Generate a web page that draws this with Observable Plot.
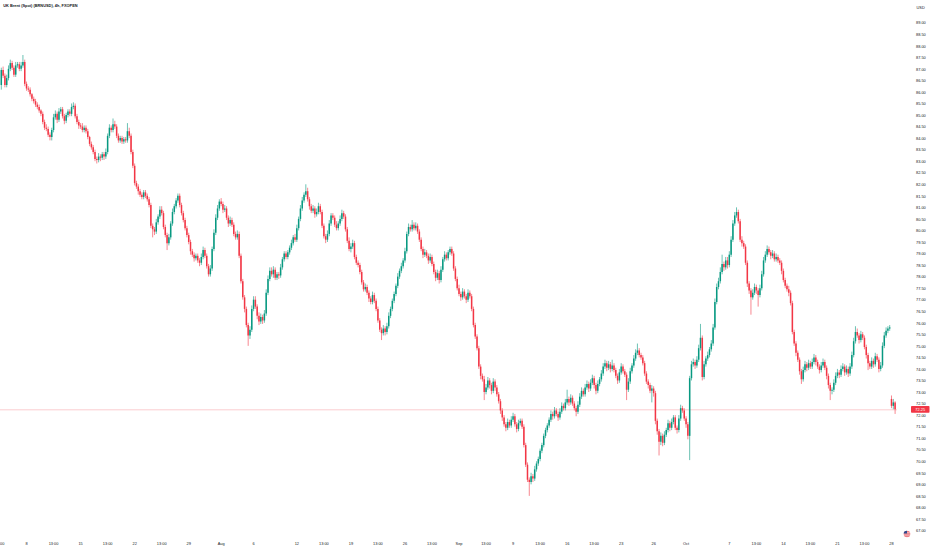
<!DOCTYPE html>
<html><head><meta charset="utf-8">
<script src="https://cdn.jsdelivr.net/npm/d3@7"></script>
<script src="https://cdn.jsdelivr.net/npm/@observablehq/plot@0.6"></script>
<style>body{margin:0;background:#fff;} #chart svg{display:block}</style>
</head><body><div id="chart"></div>
<script>
const title = "UK Brent (Spot) (BRNUSD), 4h, FXOPEN";
const currency = "USD";
// 4h closes, bar index 0..496 (early Jul -> 28 Oct)
const closes = [
86.95,86.70,86.30,86.60,87.00,87.25,87.05,86.75,87.15,87.20,
87.00,87.15,87.30,86.35,86.15,86.10,85.90,85.70,85.60,85.45,
85.35,85.20,85.05,84.70,84.45,84.40,84.15,84.05,84.35,84.90,
85.05,84.80,85.15,85.25,84.95,84.75,85.00,85.15,85.05,85.35,
85.40,84.95,84.70,84.55,84.50,84.35,84.45,84.30,84.05,83.75,
83.60,83.40,83.10,83.05,83.20,83.15,83.30,83.20,83.40,84.10,
84.45,84.35,84.60,84.50,84.10,83.90,84.00,83.85,83.95,83.90,
84.30,84.10,83.40,82.80,82.05,81.90,81.70,81.55,81.45,81.65,
81.50,81.35,81.10,80.20,80.05,79.95,80.35,80.60,80.90,80.75,
80.15,79.80,79.45,79.70,80.30,80.80,81.05,81.30,81.50,81.10,
80.75,80.45,80.10,79.80,79.50,79.10,78.95,78.80,78.90,78.70,
78.60,78.85,79.15,78.90,78.45,78.10,78.35,79.20,79.90,80.55,
80.95,81.25,81.15,80.90,80.95,80.55,80.30,80.45,80.25,79.85,
79.70,79.85,78.90,77.80,77.10,76.60,75.90,75.45,75.70,76.60,
77.00,76.70,76.30,76.05,76.25,76.10,76.40,77.30,77.90,78.25,
78.10,78.30,77.95,78.10,78.05,78.40,78.75,79.00,78.85,79.05,
79.25,79.45,79.70,79.60,80.10,80.50,80.95,81.30,81.55,81.70,
81.35,81.05,80.85,80.95,80.70,80.80,81.05,80.80,80.20,79.75,
79.60,79.85,80.30,80.65,80.55,80.25,80.10,80.30,80.50,80.75,
80.60,80.05,79.55,79.20,79.30,79.45,78.85,78.60,78.50,78.20,
77.75,77.45,77.55,77.30,77.05,76.90,77.20,76.95,76.60,76.10,
75.70,75.55,75.75,75.60,75.85,76.30,76.60,76.95,77.25,77.60,
78.00,78.25,78.45,78.70,79.10,79.85,80.15,80.05,80.25,80.10,
80.20,79.95,79.60,79.20,78.95,79.05,78.90,78.70,78.85,78.55,
78.20,77.95,78.15,77.85,78.30,78.75,78.95,78.80,79.05,79.20,
79.00,78.35,77.90,77.50,77.25,77.10,77.35,77.15,77.00,77.30,
77.15,76.60,75.90,75.40,74.90,74.10,73.70,73.55,73.00,73.20,
73.50,73.30,73.05,73.45,73.20,72.90,72.60,72.20,71.90,71.60,
71.45,71.70,71.55,71.80,71.95,71.60,71.40,71.65,71.75,71.50,
70.70,69.85,69.20,69.10,69.35,69.25,69.65,69.90,70.10,70.45,
70.70,71.10,71.35,71.55,71.80,72.05,71.95,72.20,72.05,71.90,
72.15,72.40,72.30,72.55,72.70,72.55,72.75,72.50,72.30,72.15,
72.45,72.80,73.05,72.90,73.20,73.35,73.15,73.40,73.60,73.30,
73.05,73.35,73.55,73.80,74.10,74.25,74.05,74.20,74.00,74.15,
73.95,73.70,73.50,73.85,74.10,73.90,73.75,73.10,73.45,73.90,
74.15,74.45,74.70,74.80,74.60,74.50,74.25,73.80,73.45,73.30,
73.05,73.15,72.95,71.75,71.30,70.85,71.10,70.80,71.15,71.35,
71.65,71.45,71.70,71.90,71.45,71.35,71.85,72.30,72.20,71.85,
71.60,71.10,73.60,74.20,74.30,74.15,74.40,74.90,75.35,73.65,
74.20,74.45,74.60,74.85,75.10,75.80,76.90,77.55,77.80,78.20,
78.55,78.40,78.70,78.50,78.95,79.60,80.30,80.65,80.80,80.40,
79.60,79.45,79.30,78.60,77.70,77.40,77.10,77.30,77.55,77.40,
77.20,77.50,78.10,78.70,78.95,79.20,79.05,78.90,79.00,78.75,
78.85,78.70,78.60,78.25,77.85,77.60,77.45,77.30,76.85,75.60,
75.10,74.70,74.40,73.90,73.55,73.95,74.20,74.05,74.25,74.10,
74.30,74.50,74.30,74.10,73.95,74.15,74.30,74.05,73.70,73.30,
73.05,73.10,73.40,73.70,73.85,73.75,74.00,74.10,73.85,74.00,
73.80,74.10,74.60,75.20,75.60,75.45,75.25,75.50,75.35,74.95,
74.60,74.25,74.10,74.35,74.20,74.55,74.40,74.00,74.15,75.00,
75.45,75.65,75.75,75.80,72.40,72.55,72.25
];
// wick above the body top, in cents
const upperWickCents = [
10,15,10,15,15,15,10,10,15,10,
10,15,30,10,10,10,10,5,10,10,
10,10,5,10,10,15,10,10,10,15,
15,10,15,10,10,10,10,10,10,15,
15,10,10,10,10,15,10,10,10,5,
10,10,10,10,15,10,10,10,15,10,
15,10,25,15,10,10,10,10,10,10,
35,15,10,10,10,10,10,10,10,10,
10,10,10,10,10,10,15,10,15,15,
10,10,10,15,10,15,10,10,10,10,
10,10,10,10,10,10,10,10,10,10,
10,15,15,10,10,10,15,10,15,15,
15,10,15,10,15,10,10,15,10,10,
10,15,10,10,10,10,10,10,15,15,
15,15,10,15,15,10,15,15,15,15,
15,15,10,10,10,15,10,10,10,10,
10,15,10,15,15,10,15,15,10,30,
15,10,10,15,10,15,15,10,10,10,
10,15,15,10,10,10,15,10,15,15,
10,10,10,15,15,15,10,10,10,10,
10,10,15,10,10,10,15,10,10,10,
10,10,15,10,15,15,10,10,10,10,
15,10,15,10,15,10,15,10,20,10,
15,10,10,10,10,15,10,10,15,10,
10,10,15,10,15,10,15,10,10,10,
10,10,10,10,15,10,15,10,10,15,
10,10,10,10,10,10,10,10,15,15,
15,10,10,15,10,10,10,10,10,10,
10,15,10,15,15,10,10,15,10,10,
10,10,10,10,15,10,15,10,10,10,
10,10,10,10,10,15,10,15,10,10,
15,15,10,15,40,10,15,10,10,10,
15,15,15,10,15,15,10,15,15,10,
10,15,10,15,15,15,10,15,10,25,
10,10,10,15,15,10,10,10,15,15,
10,15,15,30,10,10,10,10,10,10,
10,15,10,10,10,10,15,10,15,10,
15,10,15,10,10,10,15,15,10,10,
10,10,10,15,15,10,15,15,60,10,
15,10,15,10,15,15,15,15,15,20,
40,10,15,15,15,15,15,15,20,10,
10,15,10,10,10,10,10,15,15,10,
10,15,15,15,15,15,10,10,15,10,
15,10,10,10,10,10,10,15,10,10,
10,10,10,10,10,15,15,10,15,10,
15,15,10,10,10,15,15,10,10,10,
10,10,15,15,15,10,15,15,10,15,
10,15,15,15,25,15,10,15,10,10,
10,10,10,15,10,15,10,10,15,15,
15,15,10,10,15,15,5
];
// wick below the body bottom, in cents
const lowerWickCents = [
20,10,10,10,10,10,10,10,10,10,
10,10,10,10,10,10,10,10,10,10,
10,10,10,10,10,10,10,15,15,10,
10,15,10,10,10,15,10,10,10,10,
10,10,10,15,10,10,10,10,10,10,
10,10,10,15,10,15,10,15,10,10,
10,10,10,10,10,10,10,10,10,10,
10,10,10,10,10,10,15,10,10,10,
10,10,10,10,35,15,10,10,10,10,
10,10,30,10,10,10,10,10,10,10,
10,10,10,10,10,15,10,15,10,10,
15,10,10,10,10,10,10,10,10,10,
10,10,10,15,10,10,15,10,10,10,
10,10,10,10,10,15,10,45,15,10,
10,10,15,15,10,15,10,10,10,10,
10,15,10,10,15,10,10,10,10,10,
10,10,10,10,10,10,10,10,10,10,
10,15,10,10,15,10,10,10,10,10,
15,10,10,10,10,10,10,10,10,10,
10,10,10,10,15,10,10,10,10,10,
10,10,10,10,15,10,10,10,10,10,
10,30,10,15,10,10,10,10,10,10,
10,10,10,10,10,10,10,10,10,10,
10,10,10,10,15,10,10,15,10,10,
10,15,10,15,10,10,10,10,10,10,
10,10,10,10,10,15,10,10,15,10,
10,10,10,10,10,10,15,10,35,10,
10,15,15,10,15,10,10,15,15,10,
15,10,10,10,10,10,15,10,10,10,
10,10,10,60,10,15,10,10,10,10,
10,10,10,10,10,10,15,10,10,15,
10,10,10,10,10,15,10,10,10,20,
10,10,10,10,10,10,15,10,10,15,
15,10,10,10,10,10,15,10,15,10,
10,10,15,10,10,10,10,45,10,10,
10,10,10,10,10,10,10,10,10,15,
10,50,15,15,15,60,15,15,10,10,
10,15,10,10,10,15,10,10,10,10,
15,15,105,10,10,15,10,10,10,15,
10,10,10,10,10,10,10,10,10,10,
10,15,10,15,10,10,10,10,10,10,
10,15,10,10,15,15,75,10,10,15,
50,10,10,10,10,10,10,15,10,10,
10,10,10,15,10,10,10,15,10,10,
10,15,10,15,20,10,10,15,10,10,
10,10,15,10,15,10,10,10,15,15,
40,15,10,10,10,15,10,10,15,10,
15,10,10,10,10,10,15,10,10,10,
15,30,10,10,15,10,10,15,10,10,
10,10,10,10,10,15,20
];
// bars whose open is not the previous close (first bar, weekend gap on 28 Oct)
const sessionOpenIdx = [0, 494];
const sessionOpenPx = [86.30, 72.70];

const yTicks = [67,67.5,68,68.5,69,69.5,70,70.5,71,71.5,72,72.5,73,73.5,74,74.5,75,75.5,76,76.5,77,77.5,78,78.5,79,79.5,80,80.5,81,81.5,82,82.5,83,83.5,84,84.5,85,85.5,86,86.5,87,87.5,88,88.5,89];
const xTickIdx = [-1,14,29,44,59,74,89,104,122,140,164,179,194,209,224,239,254,269,284,299,314,329,344,362,380,404,419,434,449,464,479,494];
const xTickLabels = ["13:00","8","13:00","15","13:00","22","13:00","29","Aug","6","12","13:00","19","13:00","26","13:00","Sep","13:00","9","13:00","16","13:00","23","26","Oct","7","13:00","14","13:00","21","13:00","28"];

const UP = "#089981", DOWN = "#f23645", TXT = "#131722";
const openOverride = new Map(sessionOpenIdx.map((k, j) => [k, sessionOpenPx[j]]));
const candles = closes.map((c, i) => {
  const o = openOverride.has(i) ? openOverride.get(i) : closes[i - 1];
  return {i, o, c,
    hi: Math.max(o, c) + upperWickCents[i] / 100,
    lo: Math.min(o, c) - lowerWickCents[i] / 100,
    up: c >= o};
});
const ups = candles.filter(d => d.up), downs = candles.filter(d => !d.up);
const last = candles[candles.length - 1];
const xTicks = xTickIdx.map((i, k) => ({i, label: xTickLabels[k]}));
const FS = 3.9;

const chart = Plot.plot({
  width: 932, height: 550,
  marginLeft: 0, marginRight: 35, marginTop: 0, marginBottom: 0,
  x: {type: "linear", domain: [0, 496], range: [0.8, 894.6], axis: null},
  y: {domain: [67, 89], range: [530.5, 22.7], axis: null},
  style: {fontFamily: "'Liberation Sans', Arial, sans-serif", background: "#fff", overflow: "hidden"},
  marks: [
    Plot.ruleY([last.c], {stroke: DOWN, strokeWidth: 0.5, strokeOpacity: 0.5}),
    Plot.ruleX(ups, {x: "i", y1: "lo", y2: "hi", stroke: UP, strokeWidth: 0.6}),
    Plot.ruleX(downs, {x: "i", y1: "lo", y2: "hi", stroke: DOWN, strokeWidth: 0.6}),
    Plot.ruleX(ups, {x: "i", y1: "o", y2: "c", stroke: UP, strokeWidth: 1.5}),
    Plot.ruleX(downs, {x: "i", y1: "o", y2: "c", stroke: DOWN, strokeWidth: 1.5}),
    Plot.text(yTicks, {y: d => d, text: d => d.toFixed(2), frameAnchor: "right", dx: 18.5, textAnchor: "start", fontSize: FS, fill: TXT}),
    Plot.text([currency], {frameAnchor: "top-right", dx: 19, dy: 6, textAnchor: "start", fontSize: FS, fill: TXT}),
    Plot.text(xTicks, {x: "i", text: "label", frameAnchor: "bottom", dy: -6, fontSize: FS, fill: TXT}),
    Plot.text([title], {frameAnchor: "top-left", dx: 2.7, dy: 5.7, textAnchor: "start", lineAnchor: "middle", fontSize: FS, fontWeight: 600, fill: TXT})
  ]
});
document.getElementById("chart").append(chart);

// price tag on the right axis, placed with the chart's own y scale
const svg = d3.select(chart);
const yTag = chart.scale("y").apply(last.c);
svg.append("rect").attr("x", 911).attr("y", yTag - 3.4).attr("width", 18.5).attr("height", 6.8).attr("rx", 0.8).attr("fill", DOWN);
svg.append("text").attr("x", 920.2).attr("y", yTag).attr("dy", "0.35em").attr("text-anchor", "middle")
  .attr("font-size", FS).attr("fill", "#fff").text(last.c.toFixed(2));

// small currency flag icon
const defs = svg.append("defs");
defs.append("clipPath").attr("id", "flagclip").append("circle").attr("cx", 907).attr("cy", 534).attr("r", 3.3);
const g = svg.append("g").attr("clip-path", "url(#flagclip)");
g.append("rect").attr("x", 903).attr("y", 530).attr("width", 8).attr("height", 8).attr("fill", "#fff");
[0, 1, 2, 3].forEach(k => g.append("rect").attr("x", 903).attr("y", 530.7 + k * 1.9).attr("width", 8).attr("height", 0.95).attr("fill", "#e0303b"));
g.append("rect").attr("x", 903).attr("y", 530).attr("width", 4).attr("height", 3.5).attr("fill", "#2f4a8f");
</script>
</body></html>
